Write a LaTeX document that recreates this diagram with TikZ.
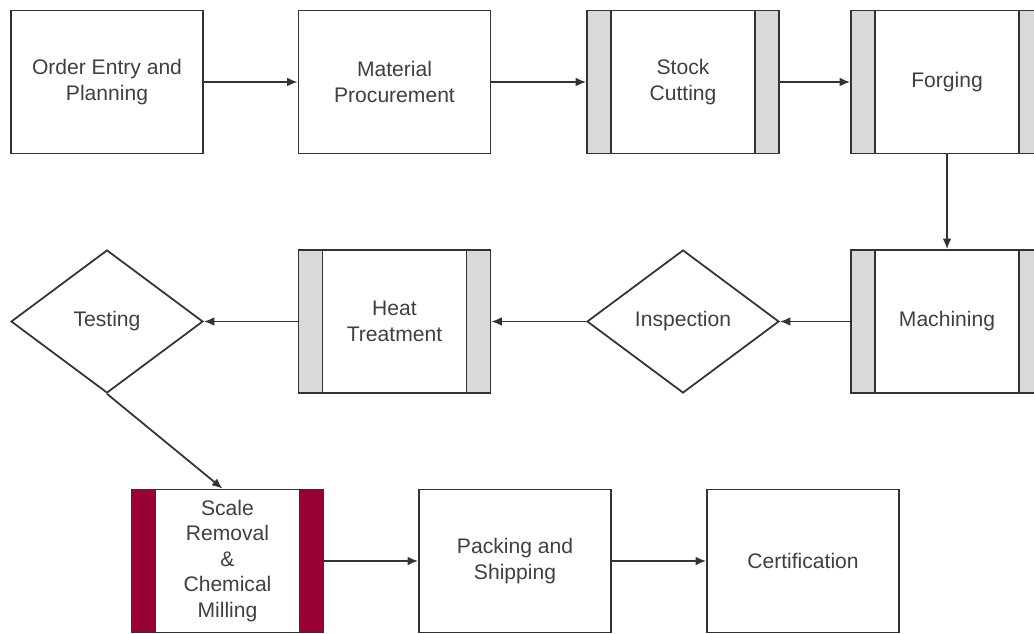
\documentclass[tikz,border=0pt]{standalone}
\usepackage{fontspec}
\setmainfont{Liberation Sans}
\usetikzlibrary{shapes.geometric,arrows.meta}
\definecolor{linegray}{HTML}{333333}
\definecolor{textgray}{HTML}{404040}
\definecolor{bargray}{HTML}{D9D9D9}
\definecolor{barred}{HTML}{990033}
\tikzset{
  box/.style={draw=linegray, line width=1pt, fill=white, minimum width=3.84cm, minimum height=2.86cm,
    align=center, text=textgray, font=\fontsize{12}{14.5}\selectfont, inner sep=2pt},
  barbox/.style={box, path picture={
      \fill[#1] (path picture bounding box.south west) rectangle ([xshift=0.48cm]path picture bounding box.north west);
      \fill[#1] (path picture bounding box.south east) rectangle ([xshift=-0.48cm]path picture bounding box.north east);
      \draw[linegray, line width=1pt] ([xshift=0.48cm]path picture bounding box.south west) -- ([xshift=0.48cm]path picture bounding box.north west)
        ([xshift=-0.48cm]path picture bounding box.south east) -- ([xshift=-0.48cm]path picture bounding box.north east);
    }},
  check/.style={box, diamond, minimum width=3.84cm, minimum height=2.86cm, inner sep=0pt},
  flow/.style={draw=linegray, line width=1pt, -{Latex[length=6pt,width=5pt]}}
}
\begin{document}
\begin{tikzpicture}[x=0.02cm,y=-0.02cm]
\useasboundingbox (0,0) rectangle (1034,634);
\clip (0,0) rectangle (1034,634);
% first row
\node[box] (order) at (107,82) {Order Entry and\\Planning};
\node[box] (material) at (394.5,82) {Material\\Procurement};
\node[barbox=bargray] (stock) at (683,82) {Stock\\Cutting};
\node[barbox=bargray] (forging) at (947,82) {Forging};
% second row
\node[barbox=bargray] (machining) at (947,321.5) {Machining};
\node[check] (inspection) at (683,321.5) {Inspection};
\node[barbox=bargray] (heat) at (394.5,321.5) {Heat\\Treatment};
\node[check] (testing) at (107,321.5) {Testing};
% third row
\node[barbox=barred] (scale) at (227.5,561) {Scale\\Removal\\\&\\Chemical\\Milling};
\node[box] (packing) at (515,561) {Packing and\\Shipping};
\node[box] (certification) at (803,561) {Certification};
% connectors
\draw[flow] (order) -- (material);
\draw[flow] (material) -- (stock);
\draw[flow] (stock) -- (forging);
\draw[flow] (forging) -- (machining);
\draw[flow] (machining) -- (inspection);
\draw[flow] (inspection) -- (heat);
\draw[flow] (heat) -- (testing);
\draw[flow] (testing.south) -- ([xshift=-0.1cm]scale.north);
\draw[flow] (scale) -- (packing);
\draw[flow] (packing) -- (certification);
\end{tikzpicture}
\end{document}
